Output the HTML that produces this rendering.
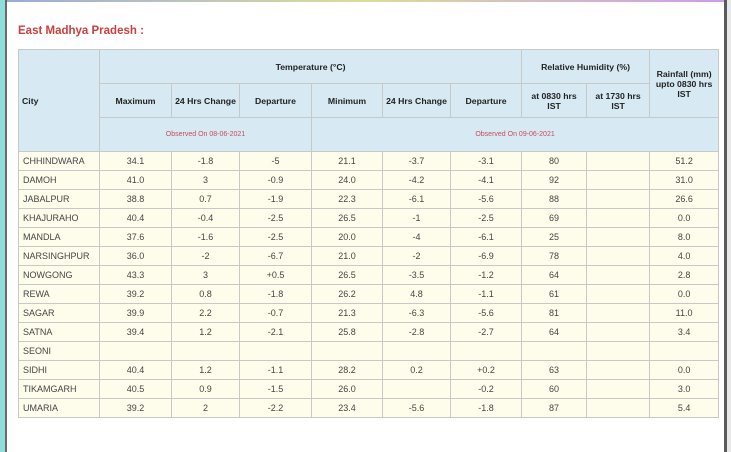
<!DOCTYPE html>
<html><head><meta charset="utf-8"><style>
body{margin:0;width:731px;height:452px;overflow:hidden;background:#fff;font-family:"Liberation Sans",sans-serif;position:relative}
.l{position:absolute;left:0;top:0;width:5px;height:452px;background:#8fdede}
.l2{position:absolute;left:5px;top:0;width:2px;height:452px;background:#6a6a6a}
.r{position:absolute;left:724px;top:0;width:3px;height:452px;background:#5a5a5a}
.r2{position:absolute;left:727px;top:0;width:4px;height:452px;background:#e8e8e8}
.t{position:absolute;left:0;top:0;width:731px;height:2px;background:linear-gradient(90deg,#9ad,#dd9,#c9e)}
h1{position:absolute;left:18px;top:25px;margin:0;font-size:11.5px;color:#c9403f;font-weight:bold}
table{position:absolute;left:18px;top:49px;border-collapse:collapse;table-layout:fixed;width:700px;font-size:9px;color:#444}
td,th{border:1px solid #c8c8c8;text-align:center;padding:0}
th{background:#d7eaf4;font-weight:bold;color:#222;height:33px;font-size:8.7px}
th.c{text-align:left;padding-left:3px}
.o{color:#c94a5a;font-weight:normal;font-size:7px}
td{background:#fefdeb;height:18px}
td:first-child{text-align:left;padding-left:4px}
</style></head><body>
<div class="t"></div><div class="l"></div><div class="l2"></div><div class="r"></div><div class="r2"></div>
<h1>East Madhya Pradesh :</h1>
<table>
<colgroup><col style="width:81px"><col style="width:72px"><col style="width:68px"><col style="width:72px"><col style="width:71px"><col style="width:68px"><col style="width:71px"><col style="width:65px"><col style="width:63px"><col style="width:69px"></colgroup>
<tr><th class="c" rowspan="3">City</th><th colspan="6">Temperature (°C)</th><th colspan="2">Relative Humidity (%)</th><th rowspan="2">Rainfall (mm)<br>upto 0830 hrs<br>IST</th></tr>
<tr><th>Maximum</th><th>24 Hrs Change</th><th>Departure</th><th>Minimum</th><th>24 Hrs Change</th><th>Departure</th><th>at 0830 hrs<br>IST</th><th>at 1730 hrs<br>IST</th></tr>
<tr><th colspan="3" class="o">Observed On 08-06-2021</th><th colspan="6" class="o">Observed On 09-06-2021</th></tr>
<tr><td>CHHINDWARA</td><td>34.1</td><td>-1.8</td><td>-5</td><td>21.1</td><td>-3.7</td><td>-3.1</td><td>80</td><td></td><td>51.2</td></tr>
<tr><td>DAMOH</td><td>41.0</td><td>3</td><td>-0.9</td><td>24.0</td><td>-4.2</td><td>-4.1</td><td>92</td><td></td><td>31.0</td></tr>
<tr><td>JABALPUR</td><td>38.8</td><td>0.7</td><td>-1.9</td><td>22.3</td><td>-6.1</td><td>-5.6</td><td>88</td><td></td><td>26.6</td></tr>
<tr><td>KHAJURAHO</td><td>40.4</td><td>-0.4</td><td>-2.5</td><td>26.5</td><td>-1</td><td>-2.5</td><td>69</td><td></td><td>0.0</td></tr>
<tr><td>MANDLA</td><td>37.6</td><td>-1.6</td><td>-2.5</td><td>20.0</td><td>-4</td><td>-6.1</td><td>25</td><td></td><td>8.0</td></tr>
<tr><td>NARSINGHPUR</td><td>36.0</td><td>-2</td><td>-6.7</td><td>21.0</td><td>-2</td><td>-6.9</td><td>78</td><td></td><td>4.0</td></tr>
<tr><td>NOWGONG</td><td>43.3</td><td>3</td><td>+0.5</td><td>26.5</td><td>-3.5</td><td>-1.2</td><td>64</td><td></td><td>2.8</td></tr>
<tr><td>REWA</td><td>39.2</td><td>0.8</td><td>-1.8</td><td>26.2</td><td>4.8</td><td>-1.1</td><td>61</td><td></td><td>0.0</td></tr>
<tr><td>SAGAR</td><td>39.9</td><td>2.2</td><td>-0.7</td><td>21.3</td><td>-6.3</td><td>-5.6</td><td>81</td><td></td><td>11.0</td></tr>
<tr><td>SATNA</td><td>39.4</td><td>1.2</td><td>-2.1</td><td>25.8</td><td>-2.8</td><td>-2.7</td><td>64</td><td></td><td>3.4</td></tr>
<tr><td>SEONI</td><td></td><td></td><td></td><td></td><td></td><td></td><td></td><td></td><td></td></tr>
<tr><td>SIDHI</td><td>40.4</td><td>1.2</td><td>-1.1</td><td>28.2</td><td>0.2</td><td>+0.2</td><td>63</td><td></td><td>0.0</td></tr>
<tr><td>TIKAMGARH</td><td>40.5</td><td>0.9</td><td>-1.5</td><td>26.0</td><td></td><td>-0.2</td><td>60</td><td></td><td>3.0</td></tr>
<tr><td>UMARIA</td><td>39.2</td><td>2</td><td>-2.2</td><td>23.4</td><td>-5.6</td><td>-1.8</td><td>87</td><td></td><td>5.4</td></tr>
</table>
</body></html>
